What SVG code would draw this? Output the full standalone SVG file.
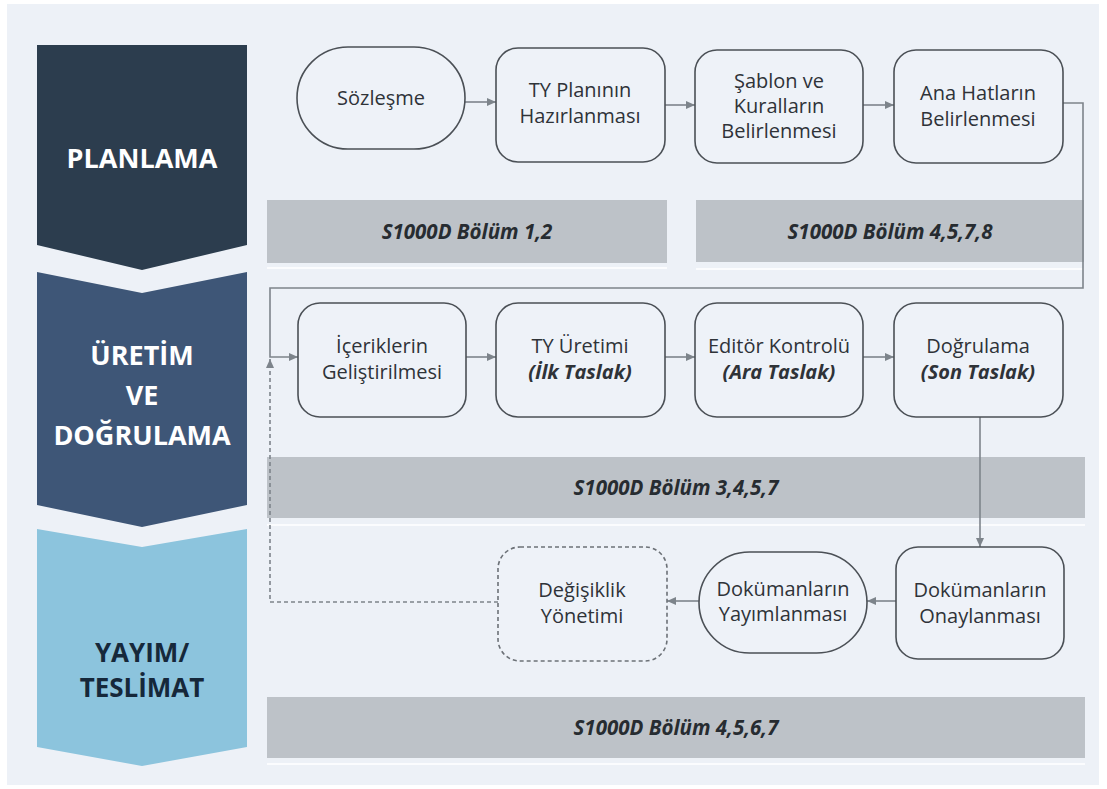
<svg xmlns="http://www.w3.org/2000/svg" width="1107" height="789" viewBox="0 0 1107 789">
  <defs>
    <marker id="arrow" markerUnits="userSpaceOnUse" markerWidth="10" markerHeight="10" refX="9" refY="5" orient="auto">
      <path d="M0,1 L9,5 L0,9 Z" fill="#7d848b"/>
    </marker>
    <style>
      .phase { font-family: "Open Sans", "DejaVu Sans", sans-serif; font-weight: 700; font-size: 27px; text-anchor: middle; }
      .phase-sm { font-size: 26px; }
      .node { fill: #eef2f8; stroke: #4b5056; stroke-width: 1.6; }
      .dashed { stroke-dasharray: 4 3; stroke: #6c7177; }
      .label { font-family: "Open Sans", "DejaVu Sans", sans-serif; font-size: 20px; fill: #2f3338; text-anchor: middle; }
      .em { font-weight: 700; font-style: italic; }
      .band { fill: #bdc2c8; }
      .band-text { font-family: "Open Sans", "DejaVu Sans", sans-serif; font-size: 20.5px; font-weight: 700; font-style: italic; fill: #272c31; text-anchor: middle; }
      .sep { stroke: #fbfcfe; stroke-width: 2; }
      .conn { fill: none; stroke: #7d848b; stroke-width: 1.6; }
    </style>
  </defs>

  <!-- page background -->
  <rect x="0" y="0" width="1107" height="789" fill="#ffffff"/>
  <rect x="7" y="4" width="1092" height="781" fill="#edf1f7"/>

  <!-- phase chevrons -->
  <g id="phase-planlama">
    <path d="M37,45 H247 V245 L142,270 L37,245 Z" fill="#2c3d4e"/>
    <text class="phase" x="142" y="168" fill="#ffffff">PLANLAMA</text>
  </g>
  <g id="phase-uretim">
    <path d="M37,272 L142,293 L247,272 V505 L142,527 L37,505 Z" fill="#3e5677"/>
    <text class="phase" fill="#ffffff"><tspan x="142" y="365">ÜRETİM</tspan><tspan x="142" y="405">VE</tspan><tspan x="142" y="445">DOĞRULAMA</tspan></text>
  </g>
  <g id="phase-yayim">
    <path d="M37,529 L142,547 L247,529 V747 L142,766 L37,747 Z" fill="#8cc4dd"/>
    <text class="phase phase-sm" fill="#16283a"><tspan x="142" y="662">YAYIM/</tspan><tspan x="142" y="697">TESLİMAT</tspan></text>
  </g>

  <!-- standard reference bands -->
  <g id="band-1">
    <rect class="band" x="267" y="200" width="400" height="63"/>
    <line class="sep" x1="267" y1="268" x2="667" y2="268"/>
    <text class="band-text" x="467" y="239">S1000D Bölüm 1,2</text>
  </g>
  <g id="band-2">
    <rect class="band" x="696" y="200" width="388" height="62"/>
    <line class="sep" x1="696" y1="269" x2="1084" y2="269"/>
    <text class="band-text" x="890" y="239">S1000D Bölüm 4,5,7,8</text>
  </g>
  <g id="band-3">
    <rect class="band" x="267" y="457" width="818" height="61"/>
    <line class="sep" x1="267" y1="525" x2="1085" y2="525"/>
    <text class="band-text" x="676" y="495">S1000D Bölüm 3,4,5,7</text>
  </g>
  <g id="band-4">
    <rect class="band" x="267" y="697" width="818" height="61"/>
    <line class="sep" x1="267" y1="764" x2="1085" y2="764"/>
    <text class="band-text" x="676" y="735">S1000D Bölüm 4,5,6,7</text>
  </g>

  <!-- connectors -->
  <g id="connectors">
    <path class="conn" d="M465,102 H496" marker-end="url(#arrow)"/>
    <path class="conn" d="M665,105 H695" marker-end="url(#arrow)"/>
    <path class="conn" d="M863,105 H894" marker-end="url(#arrow)"/>
    <path class="conn" d="M1063,103 H1083 V288 H270 V357 H298" marker-end="url(#arrow)"/>
    <path class="conn" d="M466,357 H496" marker-end="url(#arrow)"/>
    <path class="conn" d="M665,357 H695" marker-end="url(#arrow)"/>
    <path class="conn" d="M863,357 H894" marker-end="url(#arrow)"/>
    <path class="conn" d="M980,417 V547" marker-end="url(#arrow)"/>
    <path class="conn" d="M896,601 H867" marker-end="url(#arrow)"/>
    <path class="conn" d="M699,601 H667" marker-end="url(#arrow)"/>
    <path class="conn" d="M498,602 H270 V359" stroke-dasharray="4 3" marker-end="url(#arrow)"/>
  </g>

  <!-- planning row -->
  <g id="node-sozlesme">
    <rect class="node" x="297" y="47" width="168" height="102" rx="51"/>
    <text class="label" x="381" y="105">Sözleşme</text>
  </g>
  <g id="node-ty-plani">
    <rect class="node" x="496" y="48" width="169" height="114" rx="22"/>
    <text class="label"><tspan x="580" y="97">TY Planının</tspan><tspan x="580" y="123">Hazırlanması</tspan></text>
  </g>
  <g id="node-sablon">
    <rect class="node" x="695" y="50" width="168" height="113" rx="22"/>
    <text class="label"><tspan x="779" y="88">Şablon ve</tspan><tspan x="779" y="113">Kuralların</tspan><tspan x="779" y="138">Belirlenmesi</tspan></text>
  </g>
  <g id="node-ana-hatlar">
    <rect class="node" x="894" y="50" width="169" height="113" rx="22"/>
    <text class="label"><tspan x="978" y="100">Ana Hatların</tspan><tspan x="978" y="126">Belirlenmesi</tspan></text>
  </g>

  <!-- production row -->
  <g id="node-icerikler">
    <rect class="node" x="298" y="303" width="168" height="114" rx="22"/>
    <text class="label"><tspan x="382" y="353">İçeriklerin</tspan><tspan x="382" y="379">Geliştirilmesi</tspan></text>
  </g>
  <g id="node-ty-uretimi">
    <rect class="node" x="496" y="303" width="169" height="114" rx="22"/>
    <text class="label"><tspan x="580" y="353">TY Üretimi</tspan><tspan class="em" x="580" y="379">(İlk Taslak)</tspan></text>
  </g>
  <g id="node-editor">
    <rect class="node" x="695" y="303" width="168" height="114" rx="22"/>
    <text class="label"><tspan x="779" y="353">Editör Kontrolü</tspan><tspan class="em" x="779" y="379">(Ara Taslak)</tspan></text>
  </g>
  <g id="node-dogrulama">
    <rect class="node" x="894" y="303" width="169" height="114" rx="22"/>
    <text class="label"><tspan x="978" y="353">Doğrulama</tspan><tspan class="em" x="978" y="379">(Son Taslak)</tspan></text>
  </g>

  <!-- publication row -->
  <g id="node-onay">
    <rect class="node" x="896" y="547" width="168" height="112" rx="22"/>
    <text class="label"><tspan x="980" y="597">Dokümanların</tspan><tspan x="980" y="623">Onaylanması</tspan></text>
  </g>
  <g id="node-yayim">
    <rect class="node" x="699" y="552" width="168" height="101" rx="50.5"/>
    <text class="label"><tspan x="783" y="596">Dokümanların</tspan><tspan x="783" y="621">Yayımlanması</tspan></text>
  </g>
  <g id="node-degisiklik">
    <rect class="node dashed" x="498" y="547" width="169" height="114" rx="22"/>
    <text class="label"><tspan x="582" y="597">Değişiklik</tspan><tspan x="582" y="623">Yönetimi</tspan></text>
  </g>
</svg>
